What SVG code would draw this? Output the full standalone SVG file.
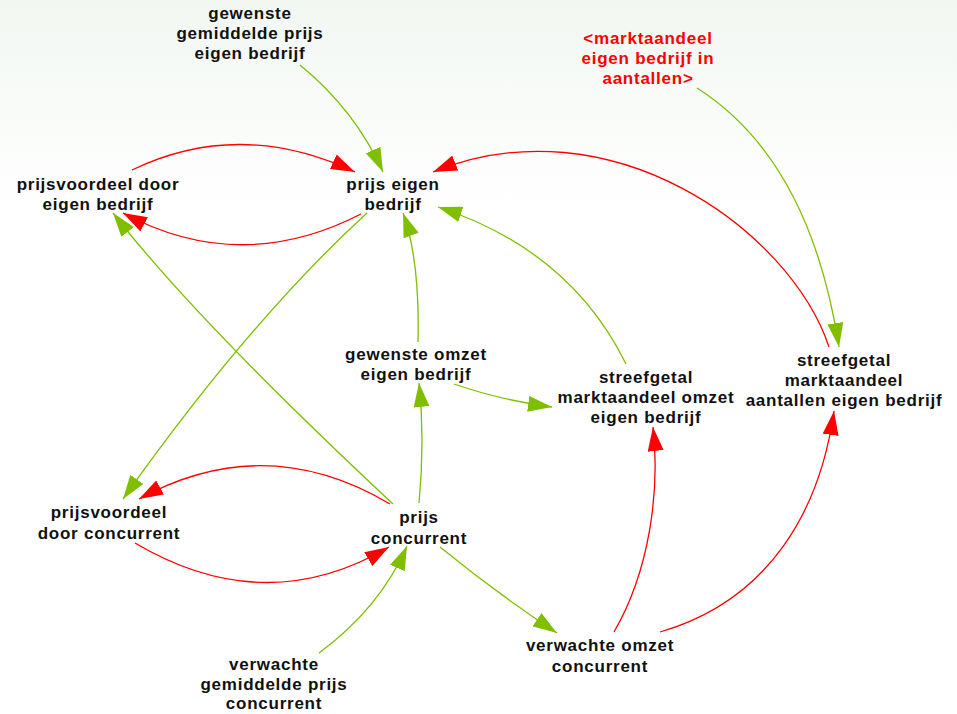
<svg xmlns="http://www.w3.org/2000/svg" width="957" height="714" viewBox="0 0 957 714">
<defs>
<linearGradient id="bg" x1="0" y1="0" x2="0" y2="1">
<stop offset="0" stop-color="#f2f7f2"/>
<stop offset="0.3" stop-color="#ffffff"/>
<stop offset="1" stop-color="#ffffff"/>
</linearGradient>
<marker id="ag" markerUnits="userSpaceOnUse" markerWidth="24" markerHeight="16" viewBox="0 0 24 16" refX="24" refY="8" orient="auto"><path d="M0,0 L24,8 L0,16 Z" fill="#7fbf00"/></marker>
<marker id="ar" markerUnits="userSpaceOnUse" markerWidth="24" markerHeight="16" viewBox="0 0 24 16" refX="24" refY="8" orient="auto"><path d="M0,0 L24,8 L0,16 Z" fill="#ff0000"/></marker>
<style>
text{font-family:"Liberation Sans",Arial,sans-serif;font-weight:bold;font-size:17px;letter-spacing:0.75px;text-anchor:middle;fill:#111111}
text.red{fill:#ff0000}
.g{fill:none;stroke:#7fbf00;stroke-width:1.3;marker-end:url(#ag)}
.r{fill:none;stroke:#ff0000;stroke-width:1.3;marker-end:url(#ar)}
</style>
</defs>
<rect x="0" y="0" width="957" height="714" fill="url(#bg)"/>
<g id="connectors">
<path class="g" d="M300,65 Q355,110 383,172"/>
<path class="r" d="M132,170 Q240,118 355,172"/>
<path class="r" d="M361,214 Q240,276 123,213"/>
<path class="r" d="M829,347 C790,230 610,100 433,172"/>
<path class="g" d="M697,88 Q810,160 839,347"/>
<path class="g" d="M367,213 Q250,320 123,499"/>
<path class="g" d="M393,504 Q196,320 113,213"/>
<path class="g" d="M418,342 Q420,260 403,213"/>
<path class="g" d="M419,503 Q425,440 419,383"/>
<path class="g" d="M626,364 Q570,250 438,207"/>
<path class="g" d="M454,384 Q500,400 552,407"/>
<path class="r" d="M390,504 Q265,430 139,499"/>
<path class="r" d="M135,543 Q265,620 389,547"/>
<path class="g" d="M319,653 Q380,608 407,546"/>
<path class="g" d="M440,547 Q495,592 557,633"/>
<path class="r" d="M614,632 C650,570 660,490 653,427"/>
<path class="r" d="M660,632 C770,600 820,510 834,411"/>
</g>
<g id="gewenste_gemiddelde_prijs_eigen_bedrijf"><text x="250" y="19">gewenste</text><text x="250" y="39">gemiddelde prijs</text><text x="250" y="59">eigen bedrijf</text></g>
<g id="marktaandeel_eigen_bedrijf_in_aantallen"><text class="red" x="648" y="44">&lt;marktaandeel</text><text class="red" x="648" y="64">eigen bedrijf in</text><text class="red" x="648" y="84">aantallen&gt;</text></g>
<g id="prijsvoordeel_door_eigen_bedrijf"><text x="98" y="190">prijsvoordeel door</text><text x="98" y="210">eigen bedrijf</text></g>
<g id="prijs_eigen_bedrijf"><text x="393" y="190">prijs eigen</text><text x="393" y="210">bedrijf</text></g>
<g id="gewenste_omzet_eigen_bedrijf"><text x="416" y="360">gewenste omzet</text><text x="416" y="380">eigen bedrijf</text></g>
<g id="streefgetal_marktaandeel_omzet_eigen_bedrijf"><text x="646" y="383">streefgetal</text><text x="646" y="403">marktaandeel omzet</text><text x="646" y="423">eigen bedrijf</text></g>
<g id="streefgetal_marktaandeel_aantallen_eigen_bedrijf"><text x="844" y="366">streefgetal</text><text x="844" y="386">marktaandeel</text><text x="844" y="406">aantallen eigen bedrijf</text></g>
<g id="prijsvoordeel_door_concurrent"><text x="109" y="518">prijsvoordeel</text><text x="109" y="539">door concurrent</text></g>
<g id="prijs_concurrent"><text x="419" y="523">prijs</text><text x="419" y="544">concurrent</text></g>
<g id="verwachte_gemiddelde_prijs_concurrent"><text x="274" y="670">verwachte</text><text x="274" y="690">gemiddelde prijs</text><text x="274" y="709">concurrent</text></g>
<g id="verwachte_omzet_concurrent"><text x="600" y="651">verwachte omzet</text><text x="600" y="672">concurrent</text></g>
</svg>
